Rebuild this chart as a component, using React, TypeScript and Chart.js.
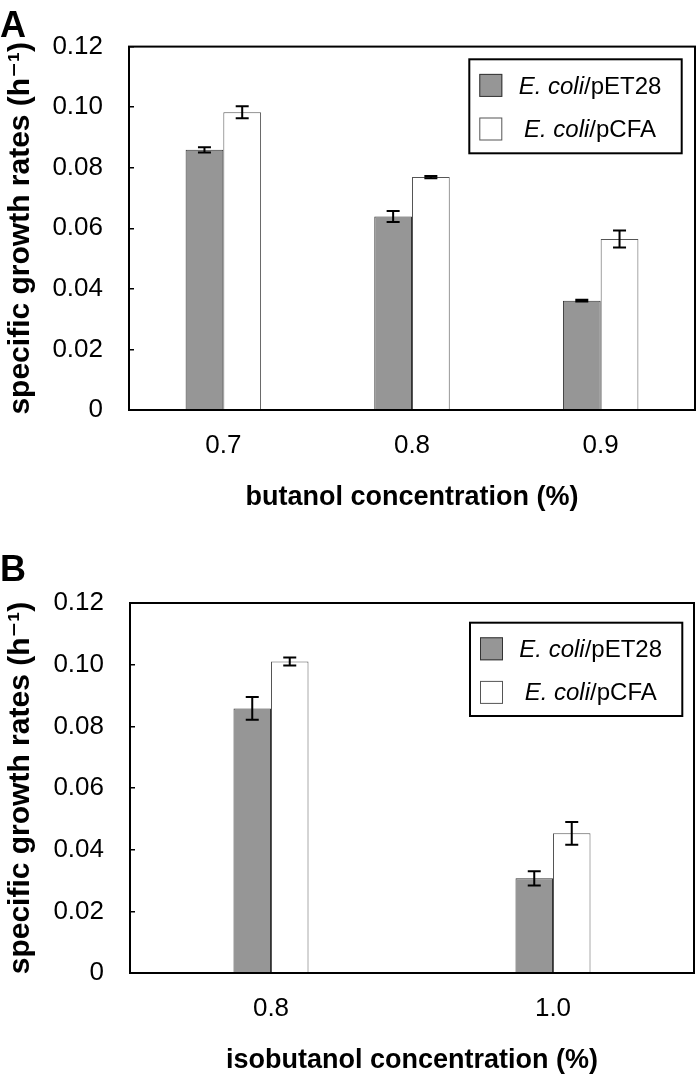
import React, { useEffect, useRef } from 'react';
import { Chart, registerables } from 'chart.js';

Chart.register(...registerables);

const FONT = "'Liberation Sans', Arial, 'DejaVu Sans', sans-serif";

// ---------- data ----------
const seriesNames = ['E. coli/pET28', 'E. coli/pCFA'];
const yTickLabels = ['0', '0.02', '0.04', '0.06', '0.08', '0.10', '0.12'];
const yTitle = 'specific growth rates (h\u207B\u00B9)';

const categoriesA = ['0.7', '0.8', '0.9'];
const pet28A = [0.0859, 0.0639, 0.0361];
const pet28ErrA = [0.0009, 0.0018, 0.0003];
const pcfaA = [0.0983, 0.0769, 0.0565];
const pcfaErrA = [0.002, 0.0004, 0.0028];
const xTitleA = 'butanol concentration (%)';

const categoriesB = ['0.8', '1.0'];
const pet28B = [0.0858, 0.0307];
const pet28ErrB = [0.0037, 0.0023];
const pcfaB = [0.101, 0.0453];
const pcfaErrB = [0.0013, 0.0037];
const xTitleB = 'isobutanol concentration (%)';

// ---------- plugins ----------
const errorBarPlugin = {
  id: 'errorBars',
  afterDatasetsDraw(chart: any) {
    const { ctx } = chart;
    const y = chart.scales.y;
    ctx.save();
    ctx.strokeStyle = '#000';
    ctx.lineWidth = 2;
    chart.data.datasets.forEach((ds: any, i: number) => {
      const meta = chart.getDatasetMeta(i);
      meta.data.forEach((bar: any, j: number) => {
        const v = ds.data[j];
        const e = ds.errors[j];
        const x = bar.x;
        const yt = y.getPixelForValue(v + e);
        const yb = y.getPixelForValue(v - e);
        ctx.beginPath();
        ctx.moveTo(x, yt);
        ctx.lineTo(x, yb);
        ctx.moveTo(x - 6.5, yt);
        ctx.lineTo(x + 6.5, yt);
        ctx.moveTo(x - 6.5, yb);
        ctx.lineTo(x + 6.5, yb);
        ctx.stroke();
      });
    });
    ctx.restore();
  },
};

const framePlugin = {
  id: 'frame',
  afterDraw(chart: any) {
    const { ctx, chartArea: a } = chart;
    ctx.save();
    ctx.strokeStyle = '#000';
    ctx.lineWidth = 2;
    ctx.strokeRect(a.left, a.top, a.right - a.left, a.bottom - a.top);
    ctx.restore();
  },
};

const boxLegendPlugin = {
  id: 'boxLegend',
  afterDraw(chart: any, _args: any, opts: any) {
    const { ctx, chartArea } = chart;
    const bx = opts.left;
    const by = chartArea.top + opts.topOffset;
    const bw = opts.width;
    const bh = opts.height;
    ctx.save();
    ctx.fillStyle = '#fff';
    ctx.fillRect(bx, by, bw, bh);
    ctx.lineWidth = 2;
    ctx.strokeStyle = '#000';
    ctx.strokeRect(bx, by, bw, bh);
    chart.data.datasets.forEach((ds: any, i: number) => {
      const sy = by + 14.6 + i * 43.6;
      ctx.fillStyle = ds.backgroundColor;
      ctx.fillRect(bx + 10, sy, 23, 23);
      ctx.lineWidth = 1;
      ctx.strokeStyle = ds.borderColor;
      ctx.strokeRect(bx + 10.5, sy + 0.5, 22, 22);
      const label: string = ds.label;
      const k = label.indexOf('/');
      const ital = label.slice(0, k);
      const rest = label.slice(k);
      ctx.font = `italic 24px ${FONT}`;
      const w1 = ctx.measureText(ital).width;
      ctx.font = `24px ${FONT}`;
      const w2 = ctx.measureText(rest).width;
      const start = bx + 120.7 - (w1 + w2) / 2;
      const base = by + 34.6 + i * 42.7;
      ctx.fillStyle = '#000';
      ctx.textAlign = 'left';
      ctx.textBaseline = 'alphabetic';
      ctx.font = `italic 24px ${FONT}`;
      ctx.fillText(ital, start, base);
      ctx.font = `24px ${FONT}`;
      ctx.fillText(rest, start + w1, base);
    });
    ctx.restore();
  },
};

type Cfg = {
  height: number;
  titleTop: number;
  titleBottom: number;
  padBottom: number;
  padRight: number;
  xHeight: number;
  yWidth: number;
  catPct: number;
  legendLeft: number;
  legendTop: number;
  legendW: number;
  legendH: number;
};

function BarPanel(props: {
  letter: string;
  categories: string[];
  s1: number[];
  e1: number[];
  s2: number[];
  e2: number[];
  xTitle: string;
  cfg: Cfg;
}) {
  const ref = useRef<HTMLCanvasElement | null>(null);
  const { letter, categories, s1, e1, s2, e2, xTitle, cfg } = props;
  useEffect(() => {
    if (!ref.current) return;
    const chart = new Chart(ref.current, {
      type: 'bar',
      data: {
        labels: categories,
        datasets: [
          {
            label: seriesNames[0],
            data: s1,
            errors: e1,
            backgroundColor: '#969696',
            borderColor: '#333333',
            borderWidth: 1,
            categoryPercentage: cfg.catPct,
            barPercentage: 1,
          } as any,
          {
            label: seriesNames[1],
            data: s2,
            errors: e2,
            backgroundColor: '#ffffff',
            borderColor: '#555555',
            borderWidth: 1,
            categoryPercentage: cfg.catPct,
            barPercentage: 1,
          } as any,
        ],
      },
      options: {
        responsive: false,
        animation: false,
        devicePixelRatio: 1,
        layout: { padding: { left: 0, right: cfg.padRight, top: 0, bottom: cfg.padBottom } },
        plugins: {
          legend: { display: false },
          tooltip: { enabled: false },
          title: {
            display: true,
            text: letter,
            align: 'start',
            color: '#000',
            font: { family: FONT, size: 36, weight: 'bold', lineHeight: 1.05 },
            padding: { top: cfg.titleTop, bottom: cfg.titleBottom },
          },
          boxLegend: {
            left: cfg.legendLeft,
            topOffset: cfg.legendTop,
            width: cfg.legendW,
            height: cfg.legendH,
          },
        } as any,
        scales: {
          x: {
            grid: { display: false },
            border: { display: false },
            ticks: { color: '#000', font: { family: FONT, size: 26 }, padding: 12 },
            title: {
              display: true,
              text: xTitle,
              color: '#000',
              font: { family: FONT, size: 27, weight: 'bold' },
              padding: 0,
            },
            afterFit: (s: any) => {
              s.height = cfg.xHeight;
            },
          },
          y: {
            min: 0,
            max: 0.12,
            ticks: {
              stepSize: 0.02,
              color: '#000',
              font: { family: FONT, size: 26 },
              padding: 31,
              callback: (_v: any, i: number) => yTickLabels[i],
            },
            grid: {
              drawOnChartArea: false,
              drawTicks: true,
              tickLength: -5,
              color: '#000',
              lineWidth: 1.5,
            },
            border: { display: false },
            title: {
              display: true,
              text: yTitle,
              color: '#000',
              font: { family: FONT, size: 30, weight: 'bold' },
              padding: { top: 3, bottom: 0 },
            },
            afterFit: (s: any) => {
              s.width = cfg.yWidth;
            },
          },
        },
      },
      plugins: [errorBarPlugin, framePlugin, boxLegendPlugin],
    });
    return () => chart.destroy();
  }, []);
  return (
    <canvas
      ref={ref}
      width={700}
      height={cfg.height}
      style={{ display: 'block', width: 700, height: cfg.height }}
    />
  );
}

const cfgA: Cfg = {
  height: 545,
  titleTop: 2,
  titleBottom: 0.2,
  padBottom: 31,
  padRight: 5,
  xHeight: 104,
  yWidth: 129,
  catPct: 0.4,
  legendLeft: 469.3,
  legendTop: 12.7,
  legendW: 212.4,
  legendH: 94,
};

const cfgB: Cfg = {
  height: 533,
  titleTop: 7.6,
  titleBottom: 12.6,
  padBottom: 1,
  padRight: 6,
  xHeight: 104,
  yWidth: 130,
  catPct: 0.266,
  legendLeft: 470,
  legendTop: 19.7,
  legendW: 212.3,
  legendH: 93.3,
};

export default function App() {
  return (
    <div style={{ position: 'absolute', left: 0, top: 0, width: 700, height: 1078, background: '#fff' }}>
      <BarPanel letter="A" categories={categoriesA} s1={pet28A} e1={pet28ErrA} s2={pcfaA} e2={pcfaErrA} xTitle={xTitleA} cfg={cfgA} />
      <BarPanel letter="B" categories={categoriesB} s1={pet28B} e1={pet28ErrB} s2={pcfaB} e2={pcfaErrB} xTitle={xTitleB} cfg={cfgB} />
    </div>
  );
}
